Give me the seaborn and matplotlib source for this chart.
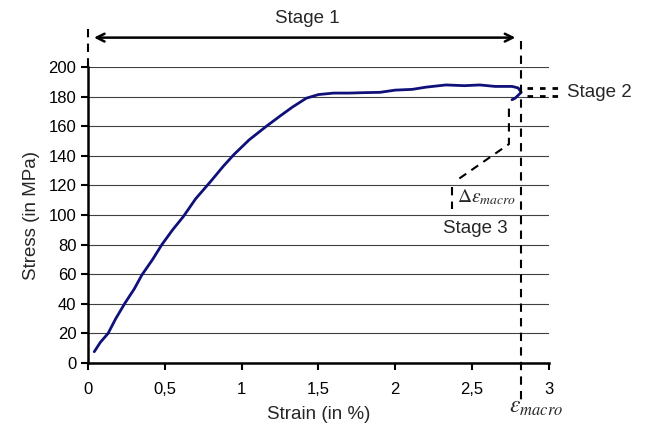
import pandas as pd
import matplotlib.pyplot as plt
import seaborn as sns

# courbe contrainte / deformation
strain = [0.04, 0.08, 0.13, 0.18, 0.24, 0.30, 0.35, 0.42, 0.48, 0.55, 0.62, 0.70,
          0.80, 0.88, 0.95, 1.05, 1.16, 1.25, 1.33, 1.42, 1.50, 1.60, 1.70, 1.80,
          1.90, 2.00, 2.11, 2.20, 2.33, 2.45, 2.55, 2.65, 2.76, 2.80, 2.82, 2.80,
          2.78, 2.76]
stress = [7.6, 14, 20, 30, 40.5, 50, 59.5, 70, 80, 90, 99, 111,
          123, 133, 141, 151, 160, 167, 173, 179, 181.5, 182.5, 182.5, 182.8,
          183, 184.5, 185, 186.5, 188, 187.5, 188, 187, 187, 186, 183, 181,
          179, 178]
x_ticks = [0, 0.5, 1, 1.5, 2, 2.5, 3]
x_ticklabels = ['0', '0,5', '1', '1,5', '2', '2,5', '3']
y_ticks = list(range(0, 201, 20))
eps_macro = 2.82

df = pd.DataFrame({'Strain': strain, 'Stress': stress})

sns.set_style('white')
plt.rcParams['font.family'] = ['Liberation Sans', 'DejaVu Sans']
plt.rcParams['mathtext.fontset'] = 'stix'

fig = plt.figure(figsize=(6.48, 4.28), dpi=100)
ax = fig.add_axes([0.136, 0.152, 0.711, 0.691])

sns.lineplot(data=df, x='Strain', y='Stress', sort=False, estimator=None,
             color='#10107a', linewidth=2, ax=ax)

ax.set_xlim(0, 3)
ax.set_ylim(0, 200)
ax.set_xticks(x_ticks)
ax.set_xticklabels(x_ticklabels)
ax.set_yticks(y_ticks)
ax.tick_params(labelsize=12, direction='out', length=5, width=1.5, colors='black', bottom=True, left=True)
ax.tick_params(axis='x', pad=9)
ax.grid(True, axis='y', color='#404040', linewidth=0.8)
ax.set_axisbelow(True)
for s in ['top', 'right']:
    ax.spines[s].set_visible(False)
for s in ['left', 'bottom']:
    ax.spines[s].set_linewidth(1.8)
    ax.spines[s].set_color('black')
ax.set_xlabel('Strain (in %)', fontsize=13.5, labelpad=6)
ax.set_ylabel('Stress (in MPa)', fontsize=13.5, labelpad=6)

# lignes pointillees verticales
ax.plot([eps_macro, eps_macro], [218, -25], ls=(0, (4, 3)), color='black', lw=1.5, clip_on=False)
ax.plot([0, 0], [226, 200], ls=(0, (4, 3)), color='black', lw=1.5, clip_on=False)

# Stage 1
ax.annotate('', xy=(0.02, 220), xytext=(eps_macro - 0.02, 220),
            arrowprops=dict(arrowstyle='<->', color='black', lw=1.8, mutation_scale=14),
            annotation_clip=False)
ax.text(1.43, 233, 'Stage 1', ha='center', va='center', fontsize=13.5)

# Stage 2
ax.plot([2.86, 3.08], [186, 186], ls=(0, (2, 2.5)), color='black', lw=2,
        dash_capstyle='butt', clip_on=False)
ax.plot([2.86, 3.08], [180.5, 180.5], ls=(0, (2, 2.5)), color='black', lw=2,
        dash_capstyle='butt', clip_on=False)
ax.text(3.12, 183, 'Stage 2', ha='left', va='center', fontsize=13.5)

# Stage 3
ax.plot([2.74, 2.74, 2.40], [172, 148, 123.5], ls=(0, (4, 3)), color='black', lw=1.5)
ax.plot([2.37, 2.37], [119, 104], ls=(0, (4, 3)), color='black', lw=1.5)
ax.text(2.40, 112, r'$\Delta\varepsilon_{macro}$', ha='left', va='center', fontsize=14)
ax.text(2.52, 91, 'Stage 3', ha='center', va='center', fontsize=13.5)

ax.text(2.92, -30, r'$\varepsilon_{macro}$', ha='center', va='center', fontsize=17)

fig.savefig('out.png', dpi=100)
